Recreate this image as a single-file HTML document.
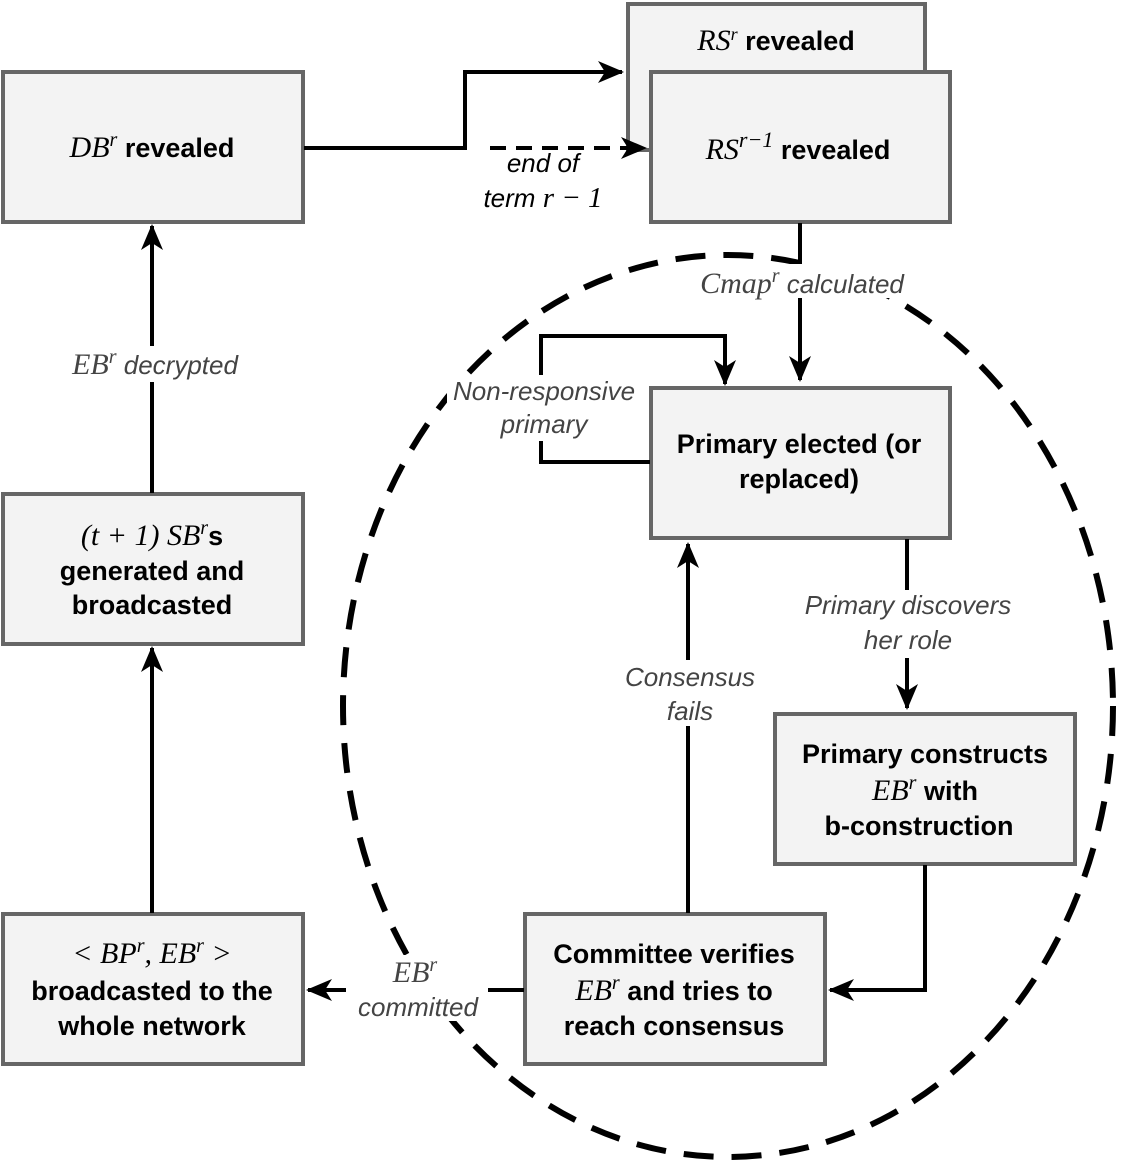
<!DOCTYPE html>
<html><head><meta charset="utf-8"><style>
body{margin:0;background:#fff;}
svg text{font-family:"Liberation Sans",sans-serif;}
.b{font-weight:bold;font-size:27px;fill:#000;}
.m{font-family:"Liberation Serif",serif;font-style:italic;font-size:30px;}
.l{font-style:italic;font-size:26px;fill:#444;}
</style></head><body>
<svg width="1121" height="1161" viewBox="0 0 1121 1161" xmlns="http://www.w3.org/2000/svg">
<defs>
<marker id="A" markerWidth="26" markerHeight="26" refX="24" refY="13" orient="auto" markerUnits="userSpaceOnUse"><path d="M0,2 L26,13 L0,24 L7,13z" fill="#000"/></marker></defs>
<g fill="#f3f3f3" stroke="#666" stroke-width="4">
<rect x="628" y="4" width="297" height="146"/>
<rect x="3" y="72" width="300" height="150"/>
<rect x="651" y="72" width="299" height="150"/>
<rect x="651" y="388" width="299" height="150"/>
<rect x="3" y="494" width="300" height="150"/>
<rect x="775" y="714" width="300" height="150"/>
<rect x="525" y="914" width="300" height="150"/>
<rect x="3" y="914" width="300" height="150"/>
</g>
<g fill="none" stroke="#000" stroke-width="4">
<path d="M304,148 H465 V72 H622" marker-end="url(#A)"/>
<path d="M490,148 H645" stroke-dasharray="16,10" marker-end="url(#A)"/>
<path d="M800,223 V380" marker-end="url(#A)"/>
<path d="M907,539 V708" marker-end="url(#A)"/>
<path d="M925,865 V990 H830" marker-end="url(#A)"/>
<path d="M688,913 V544" marker-end="url(#A)"/>
<path d="M650,462 H541 V336 H725 V384" marker-end="url(#A)"/>
<path d="M524,990 H308" marker-end="url(#A)"/>
<path d="M152,913 V648" marker-end="url(#A)"/>
<path d="M152,493 V226" marker-end="url(#A)"/>
</g>
<ellipse cx="728" cy="706" rx="385" ry="451" fill="none" stroke="#000" stroke-width="6" stroke-dasharray="30,18"/>
<g fill="#fff">
<rect x="680" y="264" width="245" height="34"/>
<rect x="447" y="375" width="195" height="66"/>
<rect x="786" y="590" width="245" height="68"/>
<rect x="612" y="660" width="155" height="66"/>
<rect x="346" y="955" width="142" height="66"/>
<rect x="52" y="346" width="210" height="36"/>
<rect x="476" y="150" width="135" height="64"/>
</g>
<text x="776" y="50" text-anchor="middle"><tspan class="m" font-size="27">RS<tspan baseline-shift="super" font-size="18">r</tspan></tspan><tspan class="b" font-size="24"> revealed</tspan></text>
<text x="152" y="157" text-anchor="middle"><tspan class="m">DB<tspan baseline-shift="super" font-size="20">r</tspan></tspan><tspan class="b"> revealed</tspan></text>
<text x="798" y="159" text-anchor="middle"><tspan class="m" font-size="32">RS<tspan baseline-shift="super" font-size="22">r−1</tspan></tspan><tspan class="b"> revealed</tspan></text>
<text x="543" y="172" text-anchor="middle" class="l" style="fill:#000">end of</text>
<text x="543" y="207" text-anchor="middle" class="l" style="fill:#000">term <tspan font-family="Liberation Serif" font-size="29">r − 1</tspan></text>
<text x="802" y="293" text-anchor="middle"><tspan class="m" fill="#444">Cmap<tspan baseline-shift="super" font-size="20">r</tspan></tspan><tspan class="l"> calculated</tspan></text>
<text x="155" y="374" text-anchor="middle"><tspan class="m" fill="#444">EB<tspan baseline-shift="super" font-size="20">r</tspan></tspan><tspan class="l"> decrypted</tspan></text>
<text x="544" y="400" text-anchor="middle" class="l">Non-responsive</text>
<text x="544" y="433" text-anchor="middle" class="l">primary</text>
<text x="799" y="453" text-anchor="middle" class="b">Primary elected (or</text>
<text x="799" y="488" text-anchor="middle" class="b">replaced)</text>
<text x="152" y="545" text-anchor="middle"><tspan class="m">(t + 1) SB<tspan baseline-shift="super" font-size="20">r</tspan></tspan><tspan class="b">s</tspan></text>
<text x="152" y="580" text-anchor="middle" class="b">generated and</text>
<text x="152" y="614" text-anchor="middle" class="b">broadcasted</text>
<text x="908" y="614" text-anchor="middle" class="l">Primary discovers</text>
<text x="908" y="649" text-anchor="middle" class="l">her role</text>
<text x="690" y="686" text-anchor="middle" class="l">Consensus</text>
<text x="690" y="720" text-anchor="middle" class="l">fails</text>
<text x="925" y="763" text-anchor="middle" class="b">Primary constructs</text>
<text x="925" y="800" text-anchor="middle"><tspan class="m">EB<tspan baseline-shift="super" font-size="20">r</tspan></tspan><tspan class="b"> with</tspan></text>
<text x="919" y="835" text-anchor="middle" class="b">b-construction</text>
<text x="674" y="963" text-anchor="middle" class="b">Committee verifies</text>
<text x="674" y="1000" text-anchor="middle"><tspan class="m">EB<tspan baseline-shift="super" font-size="20">r</tspan></tspan><tspan class="b"> and tries to</tspan></text>
<text x="674" y="1035" text-anchor="middle" class="b">reach consensus</text>
<text x="152" y="963" text-anchor="middle" class="m">&lt; BP<tspan baseline-shift="super" font-size="20">r</tspan>, EB<tspan baseline-shift="super" font-size="20">r</tspan> &gt;</text>
<text x="152" y="1000" text-anchor="middle" class="b">broadcasted to the</text>
<text x="152" y="1035" text-anchor="middle" class="b">whole network</text>
<text x="415" y="982" text-anchor="middle" class="m" fill="#444">EB<tspan baseline-shift="super" font-size="20">r</tspan></text>
<text x="418" y="1016" text-anchor="middle" class="l">committed</text>
</svg>
</body></html>
